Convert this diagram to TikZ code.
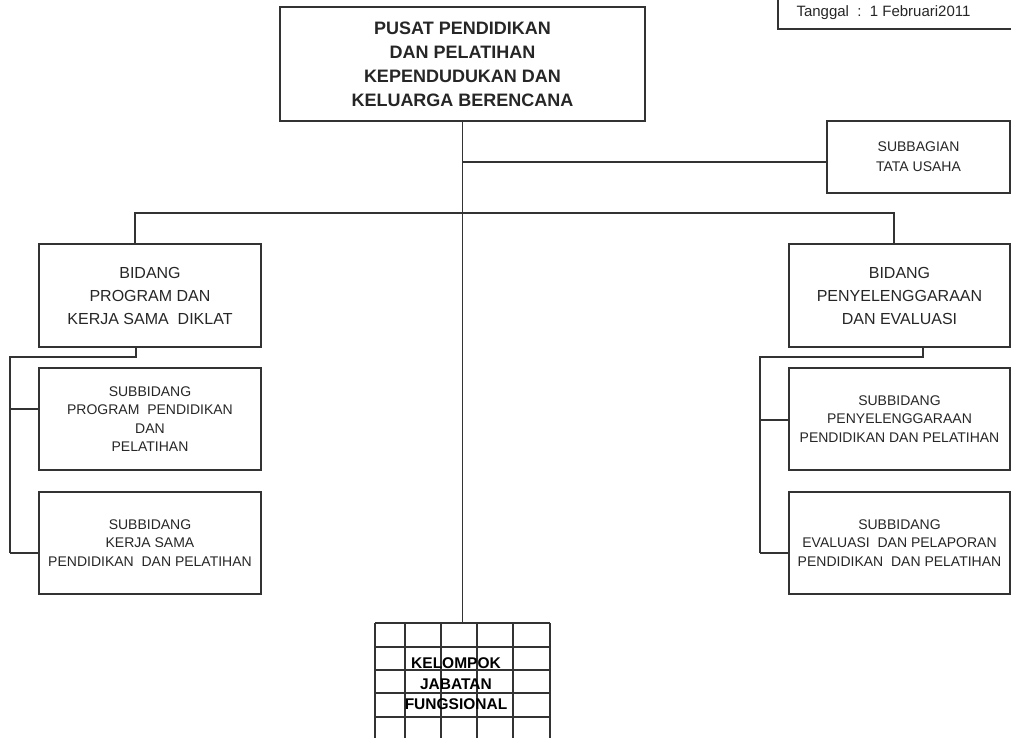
\documentclass[tikz,border=0pt]{standalone}
\usepackage{fontspec}
\setmainfont{Liberation Sans}
\begin{document}
\begin{tikzpicture}[x=1pt,y=-1pt,
  line/.style={draw=black!80, line width=1.1pt},
  box/.style={line, rectangle, inner sep=0pt, align=center, text=black!85},
  headfont/.style={font=\fontsize{18}{24}\selectfont\bfseries},
  bidfont/.style={font=\fontsize{16}{23}\selectfont},
  subfont/.style={font=\fontsize{14}{18.5}\selectfont},
  bidbox/.style={box, bidfont, minimum width=222pt, minimum height=103pt},
  subbox/.style={box, subfont, minimum width=222pt, minimum height=102pt}]
\useasboundingbox (0,0) rectangle (1011,738);

% date box in the top right corner
\draw[line] (1011,29) -- (778,29) -- (778,-1);
\node[font=\fontsize{15}{18}\selectfont, text=black!85] (tgl) at (883.5,12.5) {Tanggal\ \ :\ \ 1 Februari2011};

% head office
\node[box, headfont, minimum width=365pt, minimum height=114pt] (pusat) at (462.5,64)
  {PUSAT PENDIDIKAN\\DAN PELATIHAN\\KEPENDUDUKAN DAN\\KELUARGA BERENCANA};

% administration
\node[box, subfont, minimum width=183pt, minimum height=72pt, font=\fontsize{14}{20}\selectfont] (tu) at (918.5,157)
  {SUBBAGIAN\\TATA USAHA};

% divisions
\node[bidbox] (bid1) at (150,295.5) {BIDANG\\PROGRAM DAN\\KERJA SAMA\ \ DIKLAT};
\node[bidbox, minimum width=221pt] (bid2) at (899.5,295.5) {BIDANG\\PENYELENGGARAAN\\DAN EVALUASI};

% subdivisions
\node[subbox] (sb1) at (150,419) {SUBBIDANG\\PROGRAM\ \ PENDIDIKAN\\DAN\\PELATIHAN};
\node[subbox] (sb2) at (150,543) {SUBBIDANG\\KERJA SAMA\\PENDIDIKAN\ \ DAN PELATIHAN};
\node[subbox, minimum width=221pt] (sb3) at (899.5,419) {SUBBIDANG\\PENYELENGGARAAN\\PENDIDIKAN DAN PELATIHAN};
\node[subbox, minimum width=221pt] (sb4) at (899.5,543) {SUBBIDANG\\EVALUASI\ \ DAN PELAPORAN\\PENDIDIKAN\ \ DAN PELATIHAN};

% functional group: a grid running off the bottom edge
\node[rectangle, inner sep=0pt, minimum width=175pt, minimum height=115pt] (kjfbox) at (462.5,680.5) {};
\foreach \gx in {375,405,441,477,513,550}
  \draw[line] (\gx,623) -- (\gx,739);
\foreach \gy in {623,647,670,693,717}
  \draw[line] (375,\gy) -- (550,\gy);
\node[align=center, inner sep=0pt, font=\fontsize{15.5}{20.5}\selectfont\bfseries] (kjf) at (456,684)
  {KELOMPOK\\JABATAN\\FUNGSIONAL};

% trunk and branches
\draw[line] (pusat.south) -- (kjfbox.north);
\coordinate (tuj) at (462.5,162);
\draw[line] (tuj) -- (tu.west |- tuj);
\coordinate (busL) at (135,213);
\coordinate (busR) at (894,213);
\draw[line] (busL |- bid1.north) -- (busL) -- (busR) -- (busR |- bid2.north);

% left division and its subdivisions
\coordinate (lk) at (136,357);
\coordinate (lv) at (10,357);
\draw[line] (lk |- bid1.south) -- (lk) -- (lv) -- (10,553);
\draw[line] (10,409) -- (sb1.west |- 0,409);
\draw[line] (10,553) -- (sb2.west |- 0,553);

% right division and its subdivisions
\coordinate (rk) at (923,357);
\coordinate (rv) at (760,357);
\draw[line] (rk |- bid2.south) -- (rk) -- (rv) -- (760,553);
\draw[line] (760,420) -- (sb3.west |- 0,420);
\draw[line] (760,553) -- (sb4.west |- 0,553);
\end{tikzpicture}
\end{document}
